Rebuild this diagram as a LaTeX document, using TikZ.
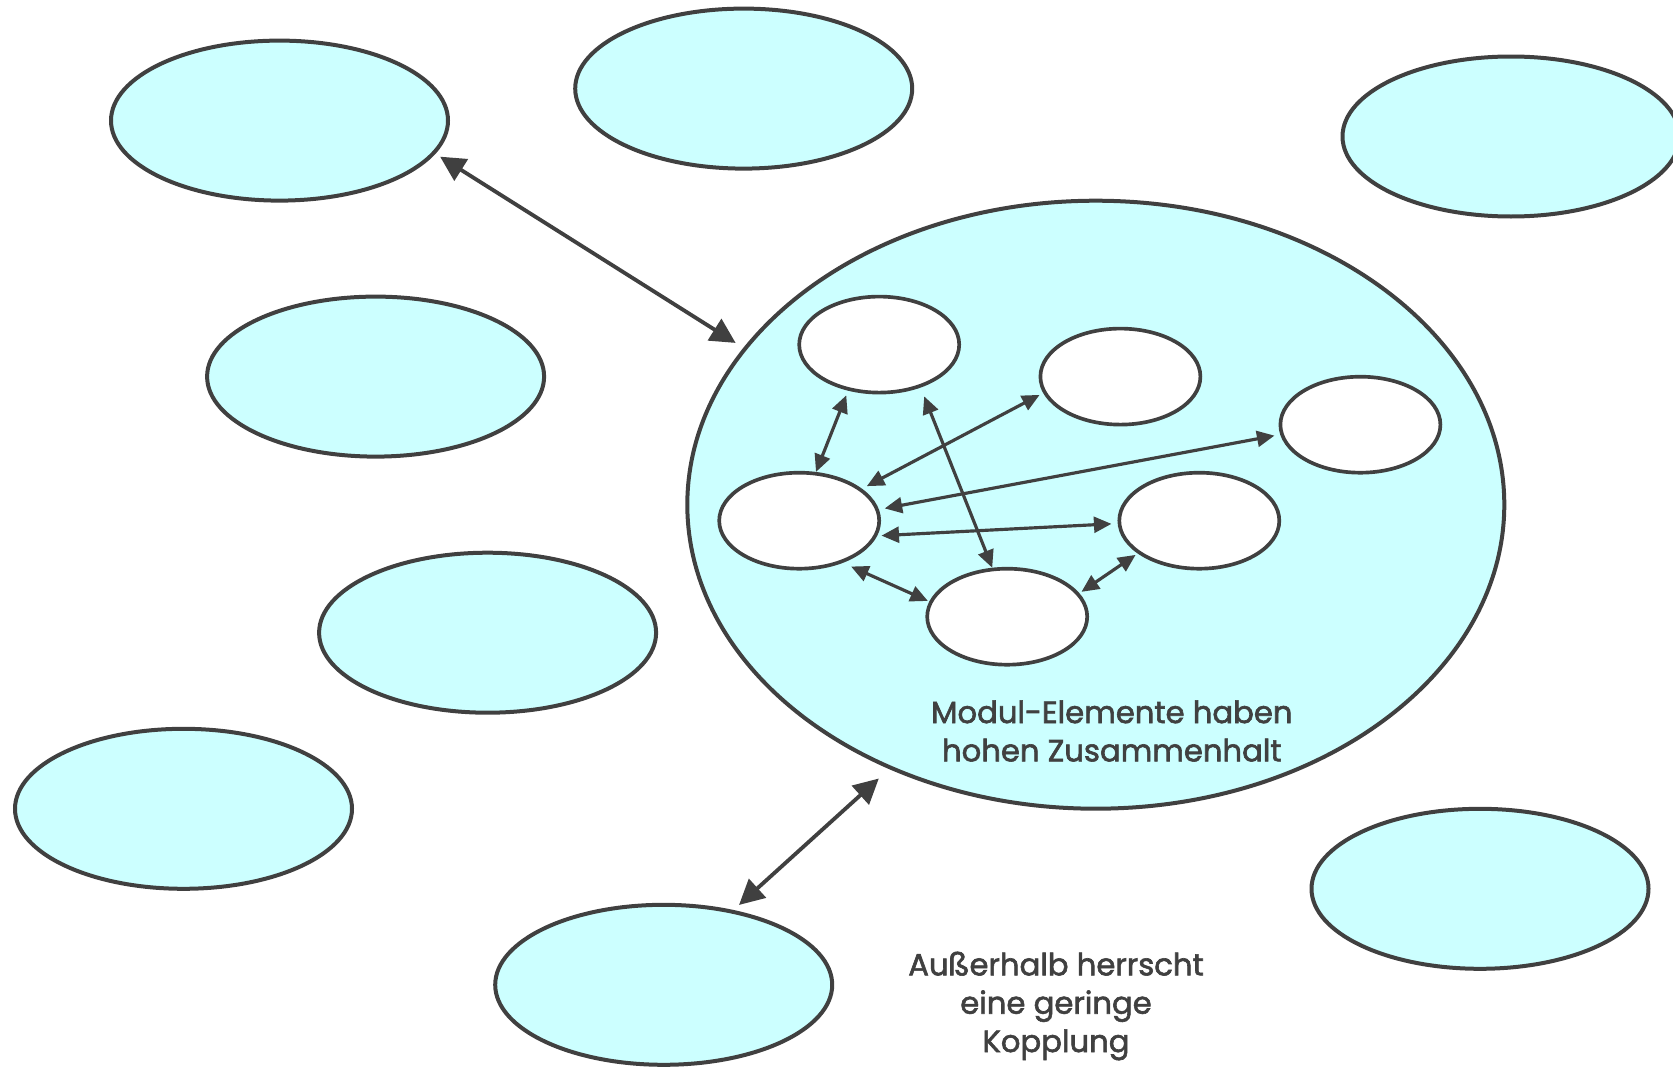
\documentclass[tikz,border=0pt]{standalone}
\usepackage{fontspec}
\setmainfont{Poppins}
\newfontfamily\lblfont{Poppins}[FakeBold=2]
\usetikzlibrary{shapes.geometric,arrows.meta}
\definecolor{fillc}{HTML}{CCFFFF}
\definecolor{linec}{HTML}{404040}
\tikzset{
  outer/.style={ellipse,draw=linec,fill=fillc,line width=2.4pt,minimum width=202.2pt,minimum height=96pt,inner sep=0pt},
  big/.style={ellipse,draw=linec,fill=fillc,line width=2.4pt,minimum width=490.2pt,minimum height=364.8pt,inner sep=0pt},
  small/.style={ellipse,draw=linec,fill=white,line width=2.2pt,minimum width=96pt,minimum height=57.6pt,inner sep=0pt},
  barr/.style={draw=linec,line width=2.3pt,{Triangle[length=15pt,width=15pt]}-{Triangle[length=15pt,width=15pt]}},
  sarr/.style={draw=linec,line width=1.9pt,{Triangle[length=10.5pt,width=9.5pt]}-{Triangle[length=10.5pt,width=9.5pt]}},
  lbl/.style={text=linec,align=center,font=\lblfont\fontsize{18.4}{23}\selectfont,inner sep=0pt}
}
\begin{document}
\begin{tikzpicture}[x=0.6pt,y=-0.6pt]
\useasboundingbox (0,0) rectangle (1673,1069);
\node[outer] (n1) at (279.5,120.6) {};
\node[outer] (n2) at (743.7,88.6) {};
\node[outer] (n3) at (1511,136.5) {};
\node[outer] (n4) at (375.6,376.6) {};
\node[outer] (n5) at (487.6,632.7) {};
\node[outer] (n6) at (183.5,808.8) {};
\node[outer] (n7) at (663.7,984.8) {};
\node[outer] (n8) at (1480,888.8) {};
\node[big] (m) at (1095.8,504.7) {};
\node[small] (a) at (879.2,344.6) {};
\node[small] (b) at (1120.4,376.6) {};
\node[small] (c) at (1360.4,424.7) {};
\node[small] (d) at (799.2,520.7) {};
\node[small] (e) at (1199.3,520.7) {};
\node[small] (f) at (1007.2,616.7) {};
% small arrows
\draw[sarr,shorten <=3pt] (a.-124.5) -- (d.71);
\draw[sarr,shorten <=2.4pt,shorten >=3.3pt] (b.-168.4) -- (d.27.6);
\draw[sarr,shorten <=3.5pt,shorten >=3.5pt] (c.-173.8) -- (d.8.7);
\draw[sarr,shorten <=3.7pt,shorten >=2.6pt] (e.-178.7) -- (d.-11.1);
\draw[sarr,shorten <=5.7pt] (a.-46.3) -- (f.107.2);
\draw[sarr,shorten <=5.4pt,shorten >=0.9pt] (d.-44.5) -- (f.169.5);
\draw[sarr,shorten <=1.5pt,shorten >=1.5pt] (e.-152.5) -- (f.18.3);
% big arrows
\draw[barr,shorten <=3.3pt,shorten >=5.5pt] (n1.-12.5) -- (m.156.1);
\draw[barr,shorten <=8.4pt,shorten >=4.5pt] (m.-128.3) -- (n7.47.4);
% labels
\node[lbl] (t1) at (1111.8,731) {Modul-Elemente haben\\hohen Zusammenhalt};
\node[lbl] (t2) at (1056,1006) {Außerhalb herrscht\\eine geringe\\Kopplung};
\end{tikzpicture}
\end{document}
